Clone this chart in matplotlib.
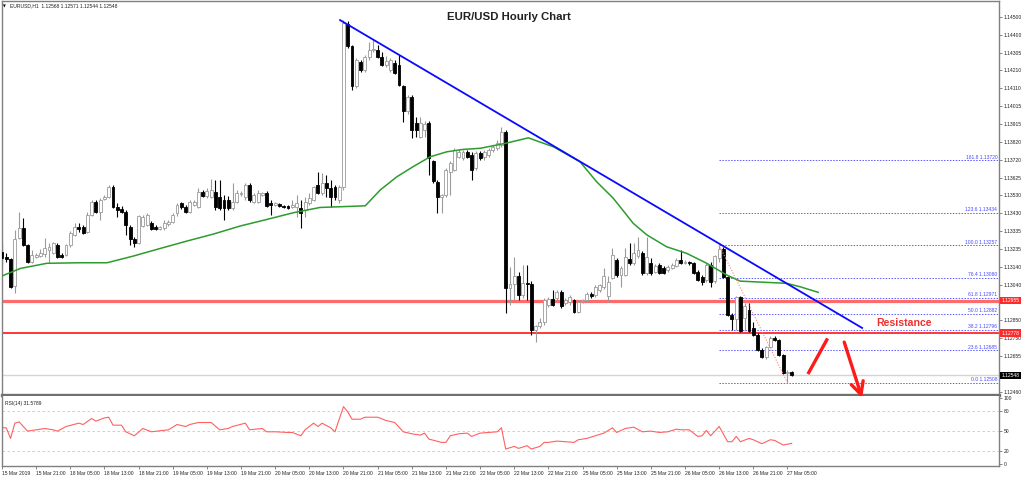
import matplotlib
matplotlib.use('Agg')
import matplotlib.pyplot as plt
import numpy as np

plt.rcParams['font.family'] = ['Liberation Sans', 'DejaVu Sans']

# EURUSD H1 candles, 15 Mar 2019 13:00 .. 27 Mar 2019 06:00
opens = [1.13219, 1.13192, 1.13181, 1.13034, 1.13295, 1.13350, 1.13257, 1.13165, 1.13192, 1.13197,
         1.13208, 1.13230, 1.13214, 1.13257, 1.13203, 1.13203, 1.13257, 1.13312, 1.13355, 1.13355,
         1.13328, 1.13421, 1.13491, 1.13437, 1.13508, 1.13519, 1.13573, 1.13464, 1.13453, 1.13437,
         1.13355, 1.13290, 1.13268, 1.13361, 1.13366, 1.13377, 1.13355, 1.13344, 1.13350, 1.13371,
         1.13382, 1.13431, 1.13486, 1.13464, 1.13437, 1.13475, 1.13464, 1.13546, 1.13524, 1.13519,
         1.13546, 1.13519, 1.13502, 1.13502, 1.13459, 1.13491, 1.13535, 1.13519, 1.13584, 1.13491,
         1.13491, 1.13530, 1.13540, 1.13486, 1.13475, 1.13480, 1.13470, 1.13470, 1.13464, 1.13464,
         1.13459, 1.13448, 1.13486, 1.13502, 1.13584, 1.13540, 1.13595, 1.13568, 1.13573, 1.13502,
         1.13573, 1.14460, 1.14341, 1.14123, 1.14253, 1.14210, 1.14281, 1.14319, 1.14319, 1.14281,
         1.14237, 1.14210, 1.14248, 1.14237, 1.14123, 1.13987, 1.14063, 1.13921, 1.13845, 1.13883,
         1.13921, 1.13715, 1.13600, 1.13519, 1.13530, 1.13655, 1.13666, 1.13736, 1.13731, 1.13764,
         1.13747, 1.13676, 1.13758, 1.13736, 1.13747, 1.13774, 1.13785, 1.13802, 1.13872, 1.13023,
         1.13045, 1.13089, 1.12985, 1.13051, 1.13045, 1.12795, 1.12817, 1.12838, 1.12931, 1.12963,
         1.12969, 1.13002, 1.12941, 1.12947, 1.12958, 1.12892, 1.12952, 1.12958, 1.12991, 1.12985,
         1.13013, 1.13029, 1.12980, 1.13078, 1.13176, 1.13094, 1.13094, 1.13181, 1.13159, 1.13197,
         1.13214, 1.13105, 1.13159, 1.13110, 1.13148, 1.13132, 1.13121, 1.13132, 1.13143, 1.13176,
         1.13159, 1.13165, 1.13159, 1.13110, 1.13083, 1.13067, 1.13148, 1.13061, 1.13186, 1.13235,
         1.13083, 1.12876, 1.12854, 1.12974, 1.12860, 1.12903, 1.12806, 1.12767, 1.12686, 1.12647,
         1.12702, 1.12751, 1.12740, 1.12658, 1.12560, 1.12568]
highs = [1.13268, 1.13214, 1.13186, 1.13339, 1.13437, 1.13404, 1.13263, 1.13230, 1.13214, 1.13235,
         1.13295, 1.13268, 1.13274, 1.13268, 1.13214, 1.13263, 1.13333, 1.13377, 1.13377, 1.13366,
         1.13437, 1.13502, 1.13502, 1.13513, 1.13530, 1.13584, 1.13584, 1.13486, 1.13470, 1.13448,
         1.13366, 1.13301, 1.13421, 1.13421, 1.13431, 1.13388, 1.13366, 1.13361, 1.13393, 1.13393,
         1.13431, 1.13486, 1.13491, 1.13475, 1.13502, 1.13502, 1.13568, 1.13557, 1.13568, 1.13617,
         1.13611, 1.13611, 1.13530, 1.13524, 1.13595, 1.13557, 1.13551, 1.13595, 1.13595, 1.13540,
         1.13557, 1.13546, 1.13551, 1.13502, 1.13491, 1.13486, 1.13475, 1.13475, 1.13502, 1.13530,
         1.13502, 1.13519, 1.13540, 1.13578, 1.13655, 1.13649, 1.13638, 1.13611, 1.13584, 1.13584,
         1.14482, 1.14477, 1.14346, 1.14275, 1.14264, 1.14292, 1.14362, 1.14373, 1.14346, 1.14308,
         1.14286, 1.14275, 1.14264, 1.14292, 1.14128, 1.14074, 1.14074, 1.13954, 1.13954, 1.13932,
         1.13932, 1.13720, 1.13611, 1.13535, 1.13676, 1.13715, 1.13785, 1.13780, 1.13774, 1.13774,
         1.13764, 1.13769, 1.13769, 1.13774, 1.13785, 1.13802, 1.13829, 1.13900, 1.13883, 1.13137,
         1.13192, 1.13110, 1.13148, 1.13148, 1.13061, 1.12822, 1.12860, 1.12969, 1.12974, 1.13013,
         1.13013, 1.13013, 1.12969, 1.12985, 1.12963, 1.12958, 1.12963, 1.13002, 1.13002, 1.13040,
         1.13045, 1.13132, 1.13089, 1.13241, 1.13186, 1.13143, 1.13241, 1.13268, 1.13268, 1.13301,
         1.13225, 1.13301, 1.13186, 1.13154, 1.13159, 1.13143, 1.13148, 1.13159, 1.13186, 1.13230,
         1.13176, 1.13170, 1.13165, 1.13121, 1.13094, 1.13159, 1.13165, 1.13203, 1.13257, 1.13246,
         1.13089, 1.12887, 1.12980, 1.12980, 1.12941, 1.12941, 1.12839, 1.12778, 1.12697, 1.12707,
         1.12763, 1.12763, 1.12746, 1.12664, 1.12577, 1.12571]
lows = [1.13148, 1.13165, 1.13023, 1.12996, 1.13290, 1.13252, 1.13159, 1.13159, 1.13186, 1.13192,
        1.13192, 1.13159, 1.13208, 1.13186, 1.13186, 1.13197, 1.13246, 1.13306, 1.13328, 1.13317,
        1.13323, 1.13415, 1.13431, 1.13393, 1.13502, 1.13513, 1.13459, 1.13410, 1.13431, 1.13312,
        1.13257, 1.13246, 1.13263, 1.13355, 1.13361, 1.13339, 1.13339, 1.13339, 1.13339, 1.13361,
        1.13377, 1.13415, 1.13453, 1.13431, 1.13431, 1.13470, 1.13459, 1.13519, 1.13513, 1.13513,
        1.13448, 1.13448, 1.13393, 1.13448, 1.13448, 1.13486, 1.13524, 1.13502, 1.13491, 1.13486,
        1.13486, 1.13524, 1.13464, 1.13421, 1.13470, 1.13464, 1.13459, 1.13453, 1.13459, 1.13410,
        1.13350, 1.13410, 1.13475, 1.13497, 1.13535, 1.13530, 1.13519, 1.13464, 1.13502, 1.13486,
        1.13557, 1.14330, 1.14101, 1.14112, 1.14199, 1.14199, 1.14264, 1.14308, 1.14275, 1.14232,
        1.14226, 1.14199, 1.14188, 1.14123, 1.13927, 1.13970, 1.13840, 1.13845, 1.13840, 1.13845,
        1.13638, 1.13595, 1.13431, 1.13431, 1.13519, 1.13530, 1.13660, 1.13731, 1.13720, 1.13731,
        1.13611, 1.13666, 1.13720, 1.13720, 1.13736, 1.13764, 1.13774, 1.13791, 1.12887, 1.12931,
        1.12958, 1.12958, 1.12969, 1.12958, 1.12767, 1.12729, 1.12806, 1.12822, 1.12920, 1.12925,
        1.12958, 1.12914, 1.12931, 1.12931, 1.12887, 1.12887, 1.12941, 1.12947, 1.12969, 1.12974,
        1.13002, 1.13018, 1.12947, 1.13072, 1.13083, 1.13029, 1.13089, 1.13148, 1.13148, 1.13186,
        1.13094, 1.13094, 1.13094, 1.13105, 1.13100, 1.13100, 1.13110, 1.13126, 1.13137, 1.13154,
        1.13154, 1.13148, 1.13100, 1.13061, 1.13040, 1.13056, 1.13029, 1.13051, 1.13165, 1.13078,
        1.12871, 1.12795, 1.12795, 1.12784, 1.12789, 1.12784, 1.12763, 1.12680, 1.12642, 1.12637,
        1.12697, 1.12735, 1.12653, 1.12555, 1.12508, 1.12544]
closes = [1.13186, 1.13181, 1.13029, 1.13290, 1.13350, 1.13257, 1.13165, 1.13203, 1.13203, 1.13214,
          1.13241, 1.13246, 1.13268, 1.13192, 1.13192, 1.13257, 1.13323, 1.13355, 1.13344, 1.13323,
          1.13421, 1.13491, 1.13437, 1.13502, 1.13519, 1.13573, 1.13464, 1.13448, 1.13437, 1.13366,
          1.13290, 1.13268, 1.13415, 1.13410, 1.13421, 1.13344, 1.13344, 1.13355, 1.13377, 1.13382,
          1.13421, 1.13475, 1.13464, 1.13437, 1.13491, 1.13491, 1.13546, 1.13524, 1.13551, 1.13557,
          1.13464, 1.13459, 1.13459, 1.13459, 1.13491, 1.13540, 1.13540, 1.13584, 1.13502, 1.13530,
          1.13540, 1.13540, 1.13470, 1.13475, 1.13486, 1.13470, 1.13464, 1.13459, 1.13475, 1.13486,
          1.13431, 1.13491, 1.13513, 1.13573, 1.13540, 1.13595, 1.13568, 1.13519, 1.13519, 1.13573,
          1.14466, 1.14341, 1.14123, 1.14264, 1.14210, 1.14281, 1.14319, 1.14324, 1.14281, 1.14237,
          1.14259, 1.14264, 1.14194, 1.14128, 1.13987, 1.14063, 1.13883, 1.13883, 1.13921, 1.13916,
          1.13731, 1.13606, 1.13519, 1.13530, 1.13666, 1.13704, 1.13774, 1.13764, 1.13764, 1.13736,
          1.13666, 1.13758, 1.13731, 1.13764, 1.13774, 1.13791, 1.13813, 1.13872, 1.13023, 1.13045,
          1.13089, 1.12985, 1.13051, 1.13045, 1.12795, 1.12817, 1.12838, 1.12958, 1.12963, 1.12931,
          1.13002, 1.12925, 1.12958, 1.12974, 1.12892, 1.12947, 1.12958, 1.12991, 1.12980, 1.13029,
          1.13040, 1.13089, 1.13056, 1.13203, 1.13094, 1.13132, 1.13192, 1.13159, 1.13214, 1.13230,
          1.13105, 1.13192, 1.13105, 1.13143, 1.13105, 1.13105, 1.13137, 1.13148, 1.13176, 1.13159,
          1.13165, 1.13159, 1.13105, 1.13067, 1.13056, 1.13148, 1.13056, 1.13197, 1.13235, 1.13083,
          1.12876, 1.12854, 1.12974, 1.12789, 1.12925, 1.12789, 1.12767, 1.12686, 1.12647, 1.12702,
          1.12751, 1.12740, 1.12658, 1.12560, 1.12566, 1.12548]

# moving average (green), read at bar positions
ma_idx = [0, 4.3, 10.5, 18.3, 24.6, 30.7, 37.1, 43.3, 49.5, 55.8, 62.1, 68.2, 74.5, 81.6, 85.1,
          88.6, 92.5, 96.3, 100.3, 104.2, 108, 112, 117.9, 123.3, 129.2, 135.4, 139.3, 143.2,
          147.9, 151.1, 155.7, 160.4, 165.1, 169.8, 172.9, 179.2, 183.8, 187, 191.2]
ma_val = [1.13089, 1.13130, 1.13158, 1.13161, 1.13161, 1.13197, 1.13239, 1.13279, 1.13317,
          1.13361, 1.13397, 1.13433, 1.13462, 1.13468, 1.13471, 1.13557, 1.13629, 1.13684,
          1.13738, 1.13765, 1.13778, 1.13784, 1.13811, 1.13841, 1.13792, 1.13711, 1.13602,
          1.13512, 1.13375, 1.13312, 1.13248, 1.13212, 1.13158, 1.13094, 1.13061, 1.13054,
          1.13049, 1.13030, 1.13000]

# RSI(14)
rsi_idx = [0, 1, 2, 3, 4, 6, 8, 10, 12, 13, 15, 18, 19, 21, 22, 24, 25, 26, 28, 29, 31, 33, 35,
           39, 41, 43, 44, 46, 49, 51, 53, 54, 57, 58, 61, 62, 64, 67, 68, 70, 71, 73, 74, 75, 77,
           78, 80, 81, 82, 84, 85, 88, 90, 92, 94, 96, 98, 99, 100, 103, 104, 105, 107, 109, 110,
           112, 114, 116, 117, 118, 120, 121, 123, 124, 126, 127, 128, 130, 132, 134, 135, 137,
           139, 141, 143, 144, 146, 148, 150, 152, 154, 156, 158, 159, 161, 163, 164, 165, 166,
           168, 170, 171, 172, 173, 175, 176, 178, 180, 181, 183, 185]
rsi_val = [55, 55, 39, 62, 64, 50, 52, 54, 52, 50, 57, 62, 60, 69, 65, 70, 71, 59, 59, 49, 43, 54,
           49, 52, 60, 57, 60, 63, 63, 52, 54, 57, 62, 52, 54, 49, 49, 48, 48, 43, 52, 62, 57, 62,
           55, 49, 87, 79, 68, 68, 71, 71, 66, 63, 49, 46, 44, 47, 38, 33, 33, 43, 46, 47, 42, 47,
           48, 49, 55, 23, 27, 24, 28, 23, 27, 33, 33, 35, 34, 33, 37, 39, 43, 47, 55, 48, 54, 56,
           49, 50, 48, 49, 53, 52, 52, 42, 43, 51, 43, 57, 34, 34, 42, 34, 39, 37, 31, 37, 36, 29,
           31.58]

date_labels = ['15 Mar 2019', '15 Mar 21:00', '18 Mar 05:00', '18 Mar 13:00', '18 Mar 21:00',
               '19 Mar 05:00', '19 Mar 13:00', '19 Mar 21:00', '20 Mar 05:00', '20 Mar 13:00',
               '20 Mar 21:00', '21 Mar 05:00', '21 Mar 13:00', '21 Mar 21:00', '22 Mar 05:00',
               '22 Mar 13:00', '22 Mar 21:00', '25 Mar 05:00', '25 Mar 13:00', '25 Mar 21:00',
               '26 Mar 05:00', '26 Mar 13:00', '26 Mar 21:00', '27 Mar 05:00']
price_ticks = [1.14500, 1.14400, 1.14305, 1.14210, 1.14110, 1.14015, 1.13915, 1.13820, 1.13720,
               1.13625, 1.13530, 1.13430, 1.13335, 1.13235, 1.13140, 1.13040, 1.12850, 1.12750,
               1.12655, 1.12460]

fib_pct = ['161.8', '123.6', '100.0', '76.4', '61.8', '50.0', '38.2', '23.6', '0.0']
fib_price = [1.13720, 1.13434, 1.13257, 1.13080, 1.12971, 1.12882, 1.12796, 1.12685, 1.12508]

support_res = [1.12955, 1.12778]
last_price = 1.12548

o = np.array(opens); h = np.array(highs); l = np.array(lows); c = np.array(closes)
idx = np.arange(len(c))
up = c >= o

fig = plt.figure(figsize=(10.24, 4.79), dpi=100)
fig.patch.set_facecolor('white')
ax = fig.add_axes([2 / 1024, 1 - 395 / 479, 997 / 1024, 394 / 479])
ax2 = fig.add_axes([2 / 1024, 1 - 466 / 479, 997 / 1024, 70 / 479], sharex=ax)

xmax = 233.56
ax.set_xlim(0.07, xmax)
ax.set_ylim(1.12441, 1.14586)

# horizontal lines
ax.axhline(last_price, color='#d4d4d4', lw=1.0, zorder=1)
ax.axhline(support_res[0], color='#ff6b6b', lw=2.3, zorder=1.5)
ax.axhline(support_res[1], color='#ff0000', lw=1.1, zorder=1.5)

# fibonacci
ax.hlines(fib_price, 168, xmax, colors='#5b5bff', lw=0.7, linestyles=(0, (1.5, 1.5)), zorder=1)
for pct, pr in zip(fib_pct, fib_price):
    ax.text(xmax - 0.4, pr + 0.00003, f'{pct} {pr:.5f}', ha='right', va='bottom',
            fontsize=3.6, color='#4a4aff')

# candles
body_lo = np.minimum(o, c)
body_h = np.maximum(np.abs(c - o), 0.00002)
ax.vlines(idx[up], l[up], h[up], color='#9a9a9a', lw=0.8, zorder=2)
ax.vlines(idx[~up], l[~up], h[~up], color='black', lw=0.8, zorder=2)
ax.bar(idx[up], body_h[up], 0.68, body_lo[up], facecolor='white', edgecolor='#9a9a9a',
       lw=0.6, zorder=3)
ax.bar(idx[~up], body_h[~up], 0.68, body_lo[~up], facecolor='black', edgecolor='black',
       lw=0.6, zorder=3)

# moving average
ax.plot(ma_idx, ma_val, color='#2e9b2e', lw=1.1, zorder=4)

# trend line
ax.plot([79.2, 201.5], [1.14482, 1.12806], color='#0a0aff', lw=1.3, zorder=5)
# fib diagonal
ax.plot([168, 184], [fib_price[2], fib_price[-1]], color='#ff8080', lw=0.8,
        ls=(0, (1, 1.5)), zorder=5)

# arrows
ax.plot([188.8, 193.4], [1.12555, 1.12749], color='#ff1a1a', lw=2.4, zorder=6,
        solid_capstyle='butt')
ax.annotate('', xy=(201.5, 1.12424), xytext=(197.3, 1.12729), annotation_clip=False,
            arrowprops=dict(arrowstyle='->,head_length=0.9,head_width=0.45', color='#ff1a1a',
                            lw=2.4, shrinkA=0, shrinkB=0), zorder=7)
ax.text(211.3, 1.12833, 'Resistance', ha='center', va='center', fontsize=7.6,
        fontweight='bold', color='#f03030')

# price axis
ax.set_yticks(price_ticks)
ax.set_yticklabels([f'{p:.5f}' for p in price_ticks])
ax.tick_params(axis='y', left=False, right=True, labelleft=False, labelright=True,
               length=2, width=0.5, pad=1.5, labelsize=3.6, colors='#555555',
               labelcolor='#222222')
ax.tick_params(axis='x', bottom=False, labelbottom=False)
for side in ['top', 'left', 'right']:
    ax.spines[side].set_color('#808080')
    ax.spines[side].set_linewidth(1)
ax.spines['bottom'].set_color('#707070')
ax.spines['bottom'].set_linewidth(2.4)

tr = ax.get_yaxis_transform()
for val, fc in [(support_res[0], '#ff2a2a'), (support_res[1], '#ff2a2a'), (last_price, 'black')]:
    ax.text(1.0025, val, f'{val:.5f}', transform=tr, ha='left', va='center', fontsize=3.6,
            color='white', clip_on=False,
            bbox=dict(boxstyle='square,pad=0.25', fc=fc, ec='none'))

# header texts
fig.text(2.5 / 1024, 1 - 6 / 479, '\u25bc', fontsize=2.6, va='center', ha='left',
         family='DejaVu Sans')
fig.text(10 / 1024, 1 - 6 / 479, 'EURUSD,H1  1.12568 1.12571 1.12544 1.12548', fontsize=3.6,
         va='center', ha='left', color='#222222')
fig.text(509 / 1024, 1 - 17 / 479, 'EUR/USD Hourly Chart', fontsize=8.2, fontweight='bold',
         ha='center', va='center', color='#222222')

# RSI panel
ax2.set_ylim(-2.6, 103)
for lev in [80, 50, 20]:
    ax2.axhline(lev, color='#c8c8c8', lw=0.6, ls=(0, (3, 3)))
ax2.plot(rsi_idx, rsi_val, color='#ff6060', lw=0.8)
ax2.text(0.003, 0.93, 'RSI(14) 31.5789', transform=ax2.transAxes, fontsize=3.6,
         va='top', ha='left', color='#222222')
ax2.set_yticks([0, 20, 50, 80, 100])
ax2.tick_params(axis='y', left=False, right=True, labelleft=False, labelright=True,
                length=2, width=0.5, pad=1.5, labelsize=3.6, colors='#555555',
                labelcolor='#222222')
ax2.set_xticks(np.arange(0, 8 * len(date_labels), 8))
ax2.set_xticklabels(date_labels, ha='left')
ax2.tick_params(axis='x', length=2.5, width=0.5, pad=1, labelsize=3.6, colors='#555555',
                labelcolor='#222222')
for side in ['bottom', 'left', 'right']:
    ax2.spines[side].set_color('#808080')
    ax2.spines[side].set_linewidth(1)
ax2.spines['top'].set_visible(False)

fig.savefig('out.png', dpi=100, facecolor='white')
